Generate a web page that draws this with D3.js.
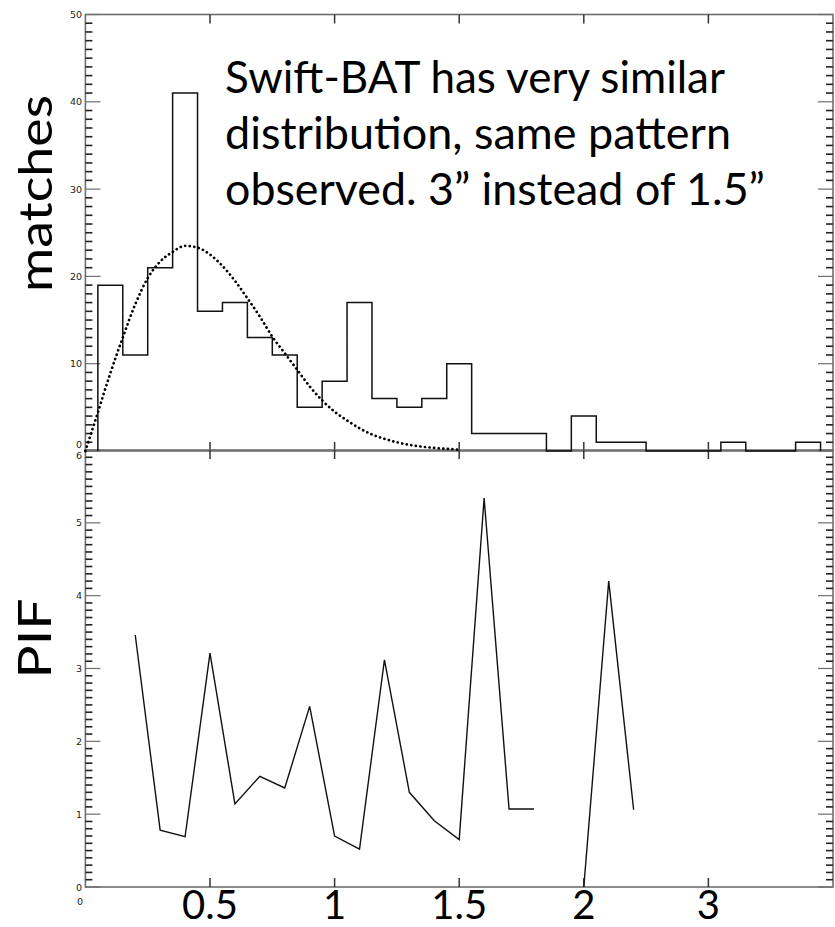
<!DOCTYPE html>
<html><head><meta charset="utf-8">
<script src="https://cdn.jsdelivr.net/npm/d3@7/dist/d3.min.js"></script>
<style>html,body{margin:0;padding:0;background:#fff}svg{display:block}</style>
</head><body>
<script>
// ---- data ----
const binCenters = [0.1,0.2,0.3,0.4,0.5,0.6,0.7,0.8,0.9,1.0,1.1,1.2,1.3,1.4,1.5,1.6,1.7,1.8,1.9,2.0,2.1,2.2,2.3,2.4,2.5,2.6,2.7,2.8,2.9];
const binCounts  = [19,11,21,41,16,17,13,11,5,8,17,6,5,6,10,2,2,2,0,4,1,1,0,0,0,1,0,0,1];
const fitX = [0,0.025,0.05,0.075,0.1,0.125,0.15,0.2,0.25,0.3,0.35,0.4,0.45,0.5,0.55,0.6,0.65,0.7,0.75,0.8,0.85,0.9,0.95,1.0,1.05,1.1,1.15,1.2,1.25,1.3,1.35,1.4,1.45,1.5];
const fitY = [0,2.2,4.4,6.7,8.9,11.0,13.0,16.8,19.8,21.7,22.8,23.5,23.3,22.5,21.2,19.5,17.5,15.4,13.1,11.2,9.3,7.4,5.8,4.5,3.5,2.6,1.9,1.4,1.0,0.7,0.5,0.35,0.25,0.15];
const pifX = [0.2,0.3,0.4,0.5,0.6,0.7,0.8,0.9,1.0,1.1,1.2,1.3,1.4,1.5,1.6,1.7,1.8,1.9,2.0,2.1,2.2];
const pifY = [3.46,0.78,0.69,3.21,1.14,1.52,1.36,2.48,0.70,0.52,3.12,1.30,0.91,0.65,5.34,1.07,1.07,null,0,4.20,1.06];
const xTickVals = [0.5,1,1.5,2,2.5];
const xTickLabels = ["0.5","1","1.5","2","3"];
const topYTicks = [0,10,20,30,40,50];
const botYTicks = [0,1,2,3,4,5,6];
const noteLines = ["Swift-BAT has very similar","distribution, same pattern","observed. 3\u201d instead of 1.5\u201d"];

// ---- layout ----
const W = 835, H = 927;
const svg = d3.select("body").append("svg").attr("width", W).attr("height", H);
const x = d3.scaleLinear().domain([0,3]).range([85.4, 833]);
const yT = d3.scaleLinear().domain([0,50]).range([451, 14.5]);
const yB = d3.scaleLinear().domain([0,6]).range([887, 450]);
const axisCol = "#6e6e6e";

function frame(y, minorStep, majorStep) {
  const [y0, y1] = y.range();
  const g = svg.append("g");
  g.append("rect").attr("x", x.range()[0]).attr("y", y1).attr("width", x.range()[1]-x.range()[0]).attr("height", y0-y1)
    .attr("fill","none").attr("stroke",axisCol).attr("stroke-width",1.6);
  const dom = y.domain();
  const n = Math.round((dom[1]-dom[0])/minorStep);
  const vals = d3.range(n+1).map(i => dom[0] + i*minorStep);
  const ratio = Math.round(majorStep/minorStep);
  vals.forEach((v,i) => {
    const major = i % ratio === 0;
    const L = major ? 15 : 7;
    const yy = y(v);
    g.append("line").attr("x1", x.range()[0]).attr("x2", x.range()[0]+L).attr("y1", yy).attr("y2", yy)
      .attr("stroke", major ? axisCol : "#222").attr("stroke-width", major?1.2:1.6);
    g.append("line").attr("x1", x.range()[1]).attr("x2", x.range()[1]-L).attr("y1", yy).attr("y2", yy)
      .attr("stroke", major ? axisCol : "#222").attr("stroke-width", major?1.2:1.6);
  });
  xTickVals.forEach(v => {
    g.append("line").attr("x1", x(v)).attr("x2", x(v)).attr("y1", y1).attr("y2", y1+9).attr("stroke","#333").attr("stroke-width",1.5);
    g.append("line").attr("x1", x(v)).attr("x2", x(v)).attr("y1", y0).attr("y2", y0-9).attr("stroke","#333").attr("stroke-width",1.5);
  });
  return g;
}
frame(yT, 1, 10);
frame(yB, 0.1, 1);

// small tick labels
const smallFont = "'DejaVu Sans', sans-serif";
svg.append("g").selectAll("text").data(topYTicks).join("text")
  .attr("x", 82).attr("y", d => yT(d) + (d===0 ? -3 : 3.5)).attr("text-anchor","end")
  .attr("font-family", smallFont).attr("font-size", 9.5).attr("fill","#222").text(d => d);
svg.append("g").selectAll("text").data(botYTicks).join("text")
  .attr("x", 82).attr("y", d => yB(d) + (d===6 ? 8.5 : 3.5)).attr("text-anchor","end")
  .attr("font-family", smallFont).attr("font-size", 9.5).attr("fill","#222").text(d => d);
svg.append("text").attr("x", 80).attr("y", 905).attr("text-anchor","middle")
  .attr("font-family", smallFont).attr("font-size", 9.5).attr("fill","#222").text("0");

// big x tick labels
const bigFont = "Lato, 'Open Sans', sans-serif";
svg.append("g").selectAll("text").data(xTickVals).join("text")
  .attr("x", d => x(d)).attr("y", 919).attr("text-anchor","middle")
  .attr("font-family", bigFont).attr("font-size", 40).attr("fill","#000")
  .text((d,i) => xTickLabels[i]);

// histogram
const histPts = [{x: binCenters[0]-0.05, y: 0}];
binCenters.forEach((c,i) => histPts.push({x: c-0.05, y: binCounts[i]}));
histPts.push({x: binCenters[binCenters.length-1]+0.05, y: binCounts[binCounts.length-1]});
histPts.push({x: binCenters[binCenters.length-1]+0.05, y: 0});
svg.append("path").datum(histPts)
  .attr("d", d3.line().x(d => x(d.x)).y(d => yT(d.y)).curve(d3.curveStepAfter))
  .attr("fill","none").attr("stroke","#111").attr("stroke-width",1.5);

// dotted fit curve
svg.append("path").datum(fitX.map((v,i)=>({x:v,y:fitY[i]})))
  .attr("d", d3.line().x(d => x(d.x)).y(d => yT(d.y)).curve(d3.curveMonotoneX))
  .attr("fill","none").attr("stroke","#000").attr("stroke-width",2.7)
  .attr("stroke-linecap","round").attr("stroke-dasharray","0.1 4.5");

// PIF line
svg.append("path").datum(pifX.map((v,i)=>({x:v,y:pifY[i]})))
  .attr("d", d3.line().defined(d => d.y !== null).x(d => x(d.x)).y(d => yB(d.y)))
  .attr("fill","none").attr("stroke","#111").attr("stroke-width",1.4);

// annotation
const noteG = svg.append("g").attr("font-family", bigFont).attr("fill","#000");
const noteTargets = [500, 506, 540];
const noteBase = [93, 149, 205];
const probe = noteG.append("text").attr("font-size", 100).text(noteLines[0]);
const w100 = probe.node().getComputedTextLength();
probe.remove();
const fs = 100 * noteTargets[0] / w100;
noteLines.forEach((t,i) => {
  noteG.append("text").attr("x", 225).attr("y", noteBase[i]).attr("font-size", fs)
    .attr("textLength", noteTargets[i]).attr("lengthAdjust","spacingAndGlyphs").text(t);
});

// axis titles
svg.append("text").attr("transform","translate(52,193.5) rotate(-90)").attr("text-anchor","middle")
  .attr("font-family", bigFont).attr("font-size", 46).attr("textLength", 197).attr("lengthAdjust","spacingAndGlyphs").text("matches");
svg.append("text").attr("transform","translate(51,638.5) rotate(-90)").attr("text-anchor","middle")
  .attr("font-family", bigFont).attr("font-size", 46).attr("textLength", 80).attr("lengthAdjust","spacingAndGlyphs").text("PIF");
</script>
</body></html>
